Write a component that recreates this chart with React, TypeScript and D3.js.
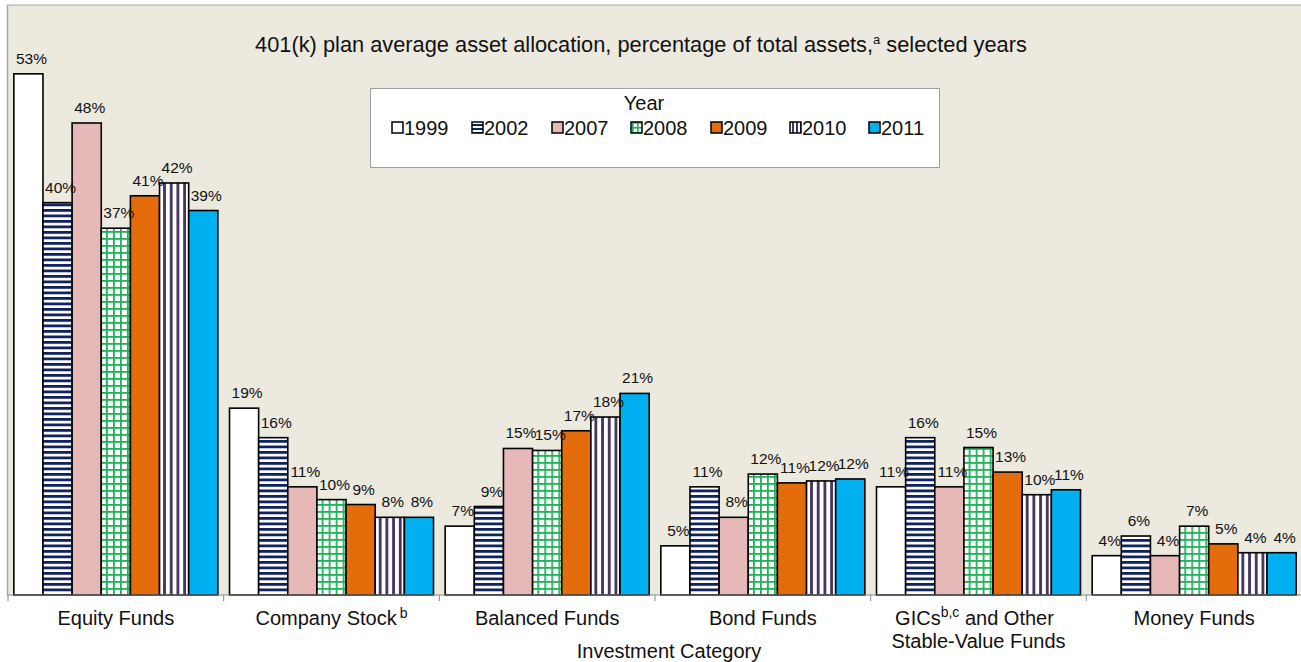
import React from "react";
import * as d3 from "d3";

const categories = ["Equity Funds", "Company Stock", "Balanced Funds", "Bond Funds", "GICs", "Money Funds"];
const years = ["1999", "2002", "2007", "2008", "2009", "2010", "2011"];
const v1999 = [53.0, 19.0, 7.0, 5.0, 11.0, 4.0];
const v2002 = [39.9, 16.0, 9.0, 11.0, 16.0, 6.0];
const v2007 = [48.0, 11.0, 14.9, 7.9, 11.0, 4.0];
const v2008 = [37.3, 9.7, 14.7, 12.3, 15.0, 7.0];
const v2009 = [40.6, 9.2, 16.7, 11.4, 12.5, 5.2];
const v2010 = [41.9, 7.9, 18.1, 11.6, 10.2, 4.3];
const v2011 = [39.1, 7.9, 20.5, 11.8, 10.7, 4.3];
const seriesValues = [v1999, v2002, v2007, v2008, v2009, v2010, v2011];
const fills = ["#ffffff", "url(#pH)", "#E6B9B8", "url(#pG)", "#E46C0A", "url(#pV)", "#00B0F0"];

const W = 1301;
const H = 662;
const FONT = "'Liberation Sans', Arial, sans-serif";

export default function App() {
  const x0 = d3.scaleBand<string>().domain(categories).range([8, 1302]).paddingInner(0).paddingOuter(0);
  const x1 = d3.scaleBand<string>().domain(years).range([0, x0.bandwidth()]).paddingInner(0).paddingOuter(0.2);
  const y = d3.scaleLinear().domain([0, 60]).range([595, 5]);
  const baseY = y(0);

  const legendX = [392, 472, 552, 631, 711, 790, 869];

  return (
    <svg width={W} height={H} style={{ display: "block", fontFamily: FONT }}>
      <style>{`body{margin:0}`}</style>
      <defs>
        <pattern id="pH" patternUnits="userSpaceOnUse" width={8} height={5.5}>
          <rect width={8} height={5.5} fill="#ffffff" />
          <rect y={0} width={8} height={2.8} fill="#0F2360" />
        </pattern>
        <pattern id="pV" patternUnits="userSpaceOnUse" width={6.7} height={8}>
          <rect width={6.7} height={8} fill="#ffffff" />
          <rect x={1} width={2.8} height={8} fill="#45345E" />
        </pattern>
        <pattern id="pG" patternUnits="userSpaceOnUse" width={7} height={7}>
          <rect width={7} height={7} fill="#ffffff" />
          <rect x={0} width={1.8} height={7} fill="#1FB25A" />
          <rect y={0} width={7} height={1.8} fill="#1FB25A" />
        </pattern>
        <pattern id="lH" patternUnits="userSpaceOnUse" width={4} height={4}>
          <rect width={4} height={4} fill="#ffffff" />
          <rect width={4} height={2} fill="#0F2360" />
        </pattern>
        <pattern id="lV" patternUnits="userSpaceOnUse" width={4} height={4}>
          <rect width={4} height={4} fill="#ffffff" />
          <rect width={2} height={4} fill="#45345E" />
        </pattern>
        <pattern id="lG" patternUnits="userSpaceOnUse" width={5} height={5}>
          <rect width={5} height={5} fill="#ffffff" />
          <rect x={2} width={1.6} height={5} fill="#1FB25A" />
          <rect y={2} width={5} height={1.6} fill="#1FB25A" />
        </pattern>
      </defs>

      <rect x={0} y={0} width={W} height={H} fill="#ffffff" />
      <rect x={7} y={5} width={W - 7} height={baseY - 5} fill="#ECE9DF" />
      <line x1={7} y1={5} x2={W} y2={5} stroke="#A6A6A6" strokeWidth={1} />
      <line x1={7.5} y1={5} x2={7.5} y2={baseY} stroke="#A6A6A6" strokeWidth={1.5} />

      {/* Title */}
      <text x={641} y={52} textAnchor="middle" fontSize={21.8} fill="#111">
        401(k) plan average asset allocation, percentage of total assets,
        <tspan dy={-8} fontSize={13}>a</tspan>
        <tspan dy={8}> selected years</tspan>
      </text>

      {/* Bars */}
      {categories.map((c, ci) => (
        <g key={c} transform={`translate(${x0(c)},0)`}>
          {years.map((yr, si) => {
            const v = seriesValues[si][ci];
            const bx = x1(yr)!;
            const bw = x1.bandwidth();
            return (
              <rect key={yr} x={bx} y={y(v)} width={bw} height={baseY - y(v)} fill={fills[si]} stroke="#000" strokeWidth={1.6} />
            );
          })}
        </g>
      ))}
      {categories.map((c, ci) => (
        <g key={c + "l"} transform={`translate(${x0(c)},0)`}>
          {years.map((yr, si) => {
            const v = seriesValues[si][ci];
            const bx = x1(yr)! + x1.bandwidth() / 2 + 3;
            return (
              <text key={yr} x={bx} y={y(v) - 10} textAnchor="middle" fontSize={15.5} fill="#111">
                {Math.round(v)}%
              </text>
            );
          })}
        </g>
      ))}

      {/* X axis */}
      <line x1={7} y1={baseY} x2={W} y2={baseY} stroke="#888" strokeWidth={1.2} />
      {categories.map((c) => (
        <line key={c + "t"} x1={x0(c)!} y1={baseY} x2={x0(c)!} y2={baseY + 6} stroke="#888" strokeWidth={1} />
      ))}

      {/* Category labels */}
      {categories.map((c, ci) => {
        const cx = x0(c)! + x0.bandwidth() / 2;
        if (ci === 1) {
          return (
            <text key={c} x={cx} y={625} textAnchor="middle" fontSize={20} fill="#111">
              {c}
              <tspan dx={3} dy={-7} fontSize={14}>b</tspan>
            </text>
          );
        }
        if (ci === 4) {
          return (
            <g key={c}>
              <text x={cx - 4} y={625} textAnchor="middle" fontSize={20} fill="#111">
                {c}
                <tspan dy={-8} fontSize={14}>b,c</tspan>
                <tspan dy={8}> and Other</tspan>
              </text>
              <text x={cx} y={648} textAnchor="middle" fontSize={20} fill="#111">
                Stable-Value Funds
              </text>
            </g>
          );
        }
        return (
          <text key={c} x={cx} y={625} textAnchor="middle" fontSize={20} fill="#111">
            {c}
          </text>
        );
      })}
      <text x={669} y={658} textAnchor="middle" fontSize={20} fill="#111">
        Investment Category
      </text>

      {/* Legend */}
      <rect x={370.5} y={88.5} width={569} height={79} fill="#ffffff" stroke="#A0A0A0" strokeWidth={1} />
      <text x={644} y={110} textAnchor="middle" fontSize={20} fill="#111">Year</text>
      {years.map((yr, si) => {
        const lf = si === 1 ? "url(#lH)" : si === 3 ? "url(#lG)" : si === 5 ? "url(#lV)" : fills[si];
        return (
          <g key={yr + "lg"}>
            <rect x={legendX[si]} y={122} width={11} height={11} fill={lf} stroke="#000" strokeWidth={1.5} />
            <text x={legendX[si] + 12} y={135} fontSize={20} fill="#111">{yr}</text>
          </g>
        );
      })}
    </svg>
  );
}
